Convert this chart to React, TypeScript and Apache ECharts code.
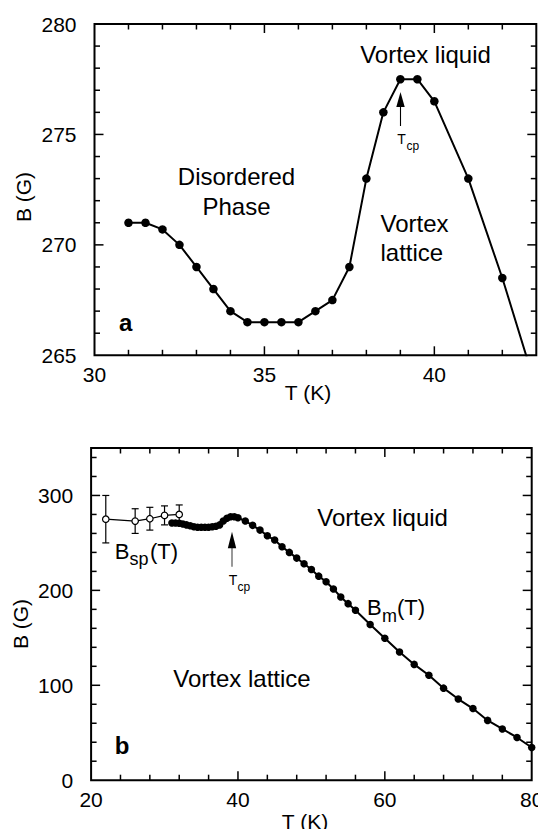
import React, { useEffect, useRef } from "react";
import * as echarts from "echarts";

const FONT = '"Liberation Sans", Arial, Helvetica, sans-serif';

// Panel a: melting line near the critical point
const aTemps = [31, 31.5, 32, 32.5, 33, 33.5, 34, 34.5, 35, 35.5, 36, 36.5, 37, 37.5, 38, 38.5, 39, 39.5, 40, 41, 42, 43];
const aFields = [271, 271, 270.7, 270, 269, 268, 267, 266.5, 266.5, 266.5, 266.5, 267, 267.5, 269, 273, 276, 277.5, 277.5, 276.5, 273, 268.5, 263.5];

// Panel b: Bm(T)
const bmTemps = [31, 31.5, 32, 32.5, 33, 33.5, 34, 34.5, 35, 35.5, 36, 36.5, 37, 37.5, 38, 38.5, 39, 39.5, 40, 41, 42, 43, 44, 45, 46, 47, 48, 49, 50, 51, 52, 53, 54, 55, 56, 58, 60, 62, 64, 66, 68, 70, 72, 74, 76, 78, 80];
const bmFields = [271, 271, 270.7, 270, 269, 268, 267, 266.5, 266.5, 266.5, 266.5, 267, 267.5, 269, 273, 276, 277.5, 277.5, 276.5, 273, 268.5, 263.5, 257.5, 253, 246, 240, 234, 228, 222, 215, 209, 201.5, 193, 186, 179, 164, 149.5, 135, 122, 110.5, 97, 85.5, 75.5, 63, 54, 45, 34.5];

// Panel b: Bsp(T) with error bars
const bspTemps = [22, 26, 28, 30, 32];
const bspFields = [275, 273, 275.5, 279, 280];
const bspErrors = [25, 13, 12, 10, 10];

// Axis ranges and tick steps: [min, max, minor step, major step]
const aXRange = [30, 43, 1, 5];
const aYRange = [265, 280, 1, 5];
const bXRange = [20, 80, 4, 20];
const bYRange = [0, 350, 20, 100];

const G0 = { left: 94.5, top: 24, width: 441.8, height: 331.3 };
const G1 = { left: 91.1, top: 448, width: 440.6, height: 332.2 };

function labelAxis(gridIndex: number, position: string, range: number[], margin: number): any {
  const interval = range[3];
  return {
    type: "value",
    gridIndex,
    position,
    min: range[0],
    max: range[1],
    interval,
    axisLine: { show: false, onZero: false },
    splitLine: { show: false },
    axisTick: { show: false },
    axisLabel: {
      show: true,
      color: "#000",
      fontSize: 21,
      fontFamily: FONT,
      margin,
      formatter: (v: number) => (v % interval === 0 ? String(v) : ""),
    },
  };
}

function txt(text: string, x: number, y: number, size: number, align = "center", weight = "normal", rotation = 0): any {
  return {
    type: "text",
    x,
    y,
    rotation,
    silent: true,
    style: {
      text,
      fill: "#000",
      fontSize: size,
      fontFamily: FONT,
      fontWeight: weight,
      textAlign: align,
      align,
      textVerticalAlign: "middle",
      verticalAlign: "middle",
    },
  };
}

function seg(x1: number, y1: number, x2: number, y2: number, color = "#000", w = 1.5): any {
  return { type: "line", silent: true, shape: { x1, y1, x2, y2 }, style: { stroke: color, lineWidth: w } };
}

function arrow(x: number, tip: number, base: number, end: number, color: string): any[] {
  return [
    seg(x, base - 1, x, end, color, 1.1),
    {
      type: "polygon",
      silent: true,
      shape: { points: [[x, tip], [x - 4.2, base], [x + 4.2, base]] },
      style: { fill: "#000" },
    },
  ];
}

// inward frame ticks on all four sides of a panel
function frameTicks(g: any, xr: number[], yr: number[]): any[] {
  const out: any[] = [];
  const left = g.left;
  const right = g.left + g.width;
  const top = g.top;
  const bottom = g.top + g.height;
  const toX = (v: number) => left + ((v - xr[0]) / (xr[1] - xr[0])) * g.width;
  const toY = (v: number) => bottom - ((v - yr[0]) / (yr[1] - yr[0])) * g.height;
  for (let v = xr[0] + xr[2]; v < xr[1]; v += xr[2]) {
    const x = toX(v);
    const len = v % xr[3] === 0 ? 9 : 5.5;
    out.push(seg(x, bottom, x, bottom - len), seg(x, top, x, top + len));
  }
  for (let v = yr[0] + yr[2]; v < yr[1]; v += yr[2]) {
    const y = toY(v);
    const len = v % yr[3] === 0 ? 9 : 5.5;
    out.push(seg(left, y, left + len, y), seg(right, y, right - len, y));
  }
  return out;
}

export default function App() {
  const ref = useRef<HTMLDivElement>(null);

  useEffect(() => {
    if (!ref.current) return;
    const chart = echarts.init(ref.current, undefined, { renderer: "svg" });

    const texts: any[] = [
      // panel a
      txt("B (G)", 23, 197, 21, "center", "normal", Math.PI / 2),
      txt("T (K)", 308, 392, 21),
      txt("Vortex liquid", 425.5, 54, 24),
      txt("Disordered", 236.5, 176, 24),
      txt("Phase", 236.5, 206, 24),
      txt("Vortex", 380.5, 223.5, 24, "left"),
      txt("lattice", 380.5, 252, 24, "left"),
      txt("a", 119, 322, 24, "left", "bold"),
      txt("T", 397.3, 138.5, 14, "left"),
      txt("cp", 406.5, 146, 12, "left"),
      ...arrow(400.5, 92, 107, 126, "#000"),
      // panel b
      txt("B (G)", 20, 624, 21, "center", "normal", Math.PI / 2),
      txt("T (K)", 305, 821, 21),
      txt("Vortex liquid", 382.6, 517, 24),
      txt("Vortex lattice", 242, 678.5, 24),
      txt("b", 114.7, 745.7, 24, "left", "bold"),
      txt("B", 114.7, 551.4, 22, "left"),
      txt("sp", 129.5, 558.8, 18, "left"),
      txt("(T)", 150, 551.4, 22, "left"),
      txt("B", 367, 607.4, 22, "left"),
      txt("m", 382, 615.5, 18, "left"),
      txt("(T)", 397, 607.4, 22, "left"),
      txt("T", 228.8, 580.2, 14, "left"),
      txt("cp", 237.5, 586.6, 12, "left"),
      ...arrow(232, 531.7, 548.3, 566.7, "#444"),
    ];

    const ticks = [...frameTicks(G0, aXRange, aYRange), ...frameTicks(G1, bXRange, bYRange)];

    const option: any = {
      animation: false,
      grid: [
        { ...G0, show: true, borderColor: "#000", borderWidth: 2, backgroundColor: "transparent", outerBoundsMode: "none" },
        { ...G1, show: true, borderColor: "#000", borderWidth: 2, backgroundColor: "transparent", outerBoundsMode: "none" },
      ],
      xAxis: [labelAxis(0, "bottom", aXRange, 9), labelAxis(1, "bottom", bXRange, 9)],
      yAxis: [labelAxis(0, "left", aYRange, 18), labelAxis(1, "left", bYRange, 18)],
      series: [
        {
          type: "line",
          xAxisIndex: 0,
          yAxisIndex: 0,
          data: aTemps.map((t, i) => [t, aFields[i]]),
          symbol: "circle",
          symbolSize: 8.5,
          itemStyle: { color: "#000" },
          lineStyle: { color: "#000", width: 2 },
          clip: true,
          z: 3,
        },
        {
          type: "custom",
          xAxisIndex: 1,
          yAxisIndex: 1,
          data: bspTemps.map((t, i) => [t, bspFields[i], bspErrors[i]]),
          encode: { x: 0, y: 1 },
          z: 2,
          renderItem: (params: any, api: any) => {
            const x = api.value(0);
            const y = api.value(1);
            const e = api.value(2);
            const top = api.coord([x, y + e]);
            const bot = api.coord([x, y - e]);
            const st = { stroke: "#000", lineWidth: 1.2 };
            const h = 3.5;
            return {
              type: "group",
              children: [
                { type: "line", shape: { x1: top[0], y1: top[1], x2: bot[0], y2: bot[1] }, style: st },
                { type: "line", shape: { x1: top[0] - h, y1: top[1], x2: top[0] + h, y2: top[1] }, style: st },
                { type: "line", shape: { x1: bot[0] - h, y1: bot[1], x2: bot[0] + h, y2: bot[1] }, style: st },
              ],
            };
          },
        },
        {
          type: "line",
          xAxisIndex: 1,
          yAxisIndex: 1,
          data: bspTemps.map((t, i) => [t, bspFields[i]]),
          symbol: "circle",
          symbolSize: 6.5,
          itemStyle: { color: "#fff", borderColor: "#000", borderWidth: 1.2 },
          lineStyle: { color: "#000", width: 1.2 },
          z: 3,
        },
        {
          type: "line",
          xAxisIndex: 1,
          yAxisIndex: 1,
          data: bmTemps.map((t, i) => [t, bmFields[i]]),
          symbol: "circle",
          symbolSize: 7.5,
          itemStyle: { color: "#000" },
          lineStyle: { color: "#000", width: 2 },
          z: 4,
        },
      ],
      graphic: [...texts, ...ticks],
    };

    chart.setOption(option);
    return () => chart.dispose();
  }, []);

  return (
    <div
      ref={ref}
      style={{ position: "fixed", left: 0, top: 0, width: 538, height: 829, background: "#fff" }}
    />
  );
}
